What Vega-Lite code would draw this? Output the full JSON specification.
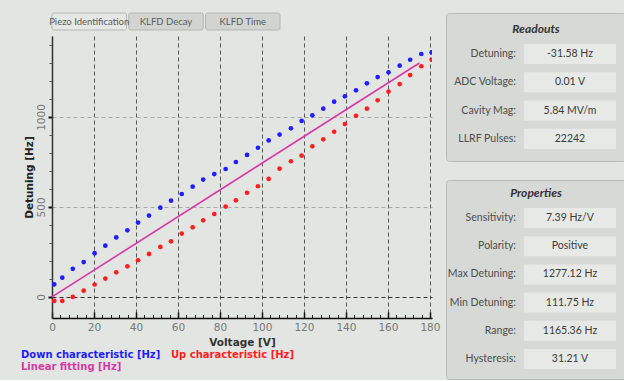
{
  "$schema": "https://vega.github.io/schema/vega-lite/v6.json",
  "background": "#e3e5e2",
  "padding": {"left": 11, "top": 12, "right": 0, "bottom": 0},
  "config": {"view": {"stroke": null}, "font": "DejaVu Sans"},
  "spacing": 5,
  "hconcat": [
    {
      "concat": [
        {
          "width": 228,
          "height": 17,
          "data": {"values": [
            {"tab": "Piezo Identification", "active": "yes"},
            {"tab": "KLFD Decay", "active": "no"},
            {"tab": "KLFD Time", "active": "no"}
          ]},
          "encoding": {"x": {"field": "tab", "type": "nominal", "sort": null, "axis": null, "scale": {"paddingInner": 0.03, "paddingOuter": 0}}},
          "layer": [
            {"mark": {"type": "rect", "stroke": "#b5b7b4", "strokeWidth": 1, "cornerRadius": 2},
             "encoding": {"fill": {"field": "active", "type": "nominal", "scale": {"domain": ["yes", "no"], "range": ["#e6e8e5", "#d2d4d1"]}, "legend": null}}},
            {"mark": {"type": "text", "font": "Lato", "fontSize": 9.5, "color": "#5a5a5a"},
             "encoding": {"text": {"field": "tab"}}}
          ]
        },
        {
          "width": 380,
          "height": 282,
          "data": {"values": [
            {"series": "Down characteristic [Hz]", "voltage": 1.1, "detuning": 70},
            {"series": "Down characteristic [Hz]", "voltage": 4.9, "detuning": 107},
            {"series": "Down characteristic [Hz]", "voltage": 9.9, "detuning": 156},
            {"series": "Down characteristic [Hz]", "voltage": 15.1, "detuning": 194},
            {"series": "Down characteristic [Hz]", "voltage": 20.3, "detuning": 243},
            {"series": "Down characteristic [Hz]", "voltage": 25.4, "detuning": 285},
            {"series": "Down characteristic [Hz]", "voltage": 30.6, "detuning": 331},
            {"series": "Down characteristic [Hz]", "voltage": 35.9, "detuning": 370},
            {"series": "Down characteristic [Hz]", "voltage": 41.0, "detuning": 413},
            {"series": "Down characteristic [Hz]", "voltage": 46.2, "detuning": 452},
            {"series": "Down characteristic [Hz]", "voltage": 51.6, "detuning": 496},
            {"series": "Down characteristic [Hz]", "voltage": 56.7, "detuning": 535},
            {"series": "Down characteristic [Hz]", "voltage": 61.8, "detuning": 572},
            {"series": "Down characteristic [Hz]", "voltage": 67.0, "detuning": 613},
            {"series": "Down characteristic [Hz]", "voltage": 72.0, "detuning": 652},
            {"series": "Down characteristic [Hz]", "voltage": 77.3, "detuning": 683},
            {"series": "Down characteristic [Hz]", "voltage": 82.7, "detuning": 711},
            {"series": "Down characteristic [Hz]", "voltage": 87.6, "detuning": 750},
            {"series": "Down characteristic [Hz]", "voltage": 92.9, "detuning": 789},
            {"series": "Down characteristic [Hz]", "voltage": 98.1, "detuning": 829},
            {"series": "Down characteristic [Hz]", "voltage": 103.2, "detuning": 870},
            {"series": "Down characteristic [Hz]", "voltage": 108.4, "detuning": 902},
            {"series": "Down characteristic [Hz]", "voltage": 113.8, "detuning": 937},
            {"series": "Down characteristic [Hz]", "voltage": 118.9, "detuning": 978},
            {"series": "Down characteristic [Hz]", "voltage": 124.0, "detuning": 1009},
            {"series": "Down characteristic [Hz]", "voltage": 129.2, "detuning": 1046},
            {"series": "Down characteristic [Hz]", "voltage": 134.4, "detuning": 1085},
            {"series": "Down characteristic [Hz]", "voltage": 139.5, "detuning": 1115},
            {"series": "Down characteristic [Hz]", "voltage": 144.8, "detuning": 1148},
            {"series": "Down characteristic [Hz]", "voltage": 150.0, "detuning": 1187},
            {"series": "Down characteristic [Hz]", "voltage": 155.1, "detuning": 1222},
            {"series": "Down characteristic [Hz]", "voltage": 160.3, "detuning": 1248},
            {"series": "Down characteristic [Hz]", "voltage": 165.6, "detuning": 1285},
            {"series": "Down characteristic [Hz]", "voltage": 170.6, "detuning": 1318},
            {"series": "Down characteristic [Hz]", "voltage": 175.9, "detuning": 1350},
            {"series": "Down characteristic [Hz]", "voltage": 180.8, "detuning": 1359},
            {"series": "Up characteristic [Hz]", "voltage": 1.1, "detuning": -22},
            {"series": "Up characteristic [Hz]", "voltage": 4.9, "detuning": -22},
            {"series": "Up characteristic [Hz]", "voltage": 9.9, "detuning": 0},
            {"series": "Up characteristic [Hz]", "voltage": 15.1, "detuning": 35},
            {"series": "Up characteristic [Hz]", "voltage": 20.3, "detuning": 69},
            {"series": "Up characteristic [Hz]", "voltage": 25.4, "detuning": 102},
            {"series": "Up characteristic [Hz]", "voltage": 30.6, "detuning": 137},
            {"series": "Up characteristic [Hz]", "voltage": 35.9, "detuning": 170},
            {"series": "Up characteristic [Hz]", "voltage": 41.0, "detuning": 204},
            {"series": "Up characteristic [Hz]", "voltage": 46.2, "detuning": 239},
            {"series": "Up characteristic [Hz]", "voltage": 51.6, "detuning": 278},
            {"series": "Up characteristic [Hz]", "voltage": 56.7, "detuning": 309},
            {"series": "Up characteristic [Hz]", "voltage": 61.8, "detuning": 352},
            {"series": "Up characteristic [Hz]", "voltage": 67.0, "detuning": 387},
            {"series": "Up characteristic [Hz]", "voltage": 72.0, "detuning": 426},
            {"series": "Up characteristic [Hz]", "voltage": 77.3, "detuning": 461},
            {"series": "Up characteristic [Hz]", "voltage": 82.7, "detuning": 502},
            {"series": "Up characteristic [Hz]", "voltage": 87.6, "detuning": 537},
            {"series": "Up characteristic [Hz]", "voltage": 92.9, "detuning": 579},
            {"series": "Up characteristic [Hz]", "voltage": 98.1, "detuning": 615},
            {"series": "Up characteristic [Hz]", "voltage": 103.2, "detuning": 656},
            {"series": "Up characteristic [Hz]", "voltage": 108.4, "detuning": 713},
            {"series": "Up characteristic [Hz]", "voltage": 113.8, "detuning": 754},
            {"series": "Up characteristic [Hz]", "voltage": 118.9, "detuning": 785},
            {"series": "Up characteristic [Hz]", "voltage": 124.0, "detuning": 837},
            {"series": "Up characteristic [Hz]", "voltage": 129.2, "detuning": 876},
            {"series": "Up characteristic [Hz]", "voltage": 134.4, "detuning": 918},
            {"series": "Up characteristic [Hz]", "voltage": 139.5, "detuning": 961},
            {"series": "Up characteristic [Hz]", "voltage": 144.8, "detuning": 1007},
            {"series": "Up characteristic [Hz]", "voltage": 150.0, "detuning": 1046},
            {"series": "Up characteristic [Hz]", "voltage": 155.1, "detuning": 1093},
            {"series": "Up characteristic [Hz]", "voltage": 160.3, "detuning": 1141},
            {"series": "Up characteristic [Hz]", "voltage": 165.6, "detuning": 1183},
            {"series": "Up characteristic [Hz]", "voltage": 170.6, "detuning": 1233},
            {"series": "Up characteristic [Hz]", "voltage": 175.9, "detuning": 1282},
            {"series": "Up characteristic [Hz]", "voltage": 180.8, "detuning": 1318},
            {"series": "Linear fitting [Hz]", "voltage": 0, "detuning": 0},
            {"series": "Linear fitting [Hz]", "voltage": 175, "detuning": 1300}
          ]},
          "layer": [
            {
              "transform": [{"filter": "datum.series !== 'Linear fitting [Hz]'"}],
              "mark": {"type": "circle", "size": 22, "opacity": 1, "clip": true},
              "encoding": {
                "x": {"field": "voltage", "type": "quantitative",
                  "scale": {"domain": [0, 181], "nice": false, "zero": false},
                  "axis": {"orient": "bottom", "values": [0, 20, 40, 60, 80, 100, 120, 140, 160, 180], "title": "Voltage [V]",
                    "titleFont": "DejaVu Sans", "titleFontSize": 10.5, "titleFontWeight": "bold", "titleColor": "#333", "titlePadding": 5,
                    "labelFont": "DejaVu Sans", "labelFontSize": 10.5, "labelColor": "#777", "labelPadding": 10, "labelFlush": false,
                    "tickSize": -6, "tickWidth": 1.5, "tickColor": "#111", "domainColor": "#111", "domainWidth": 1.5,
                    "grid": true, "gridDash": [4, 3], "gridColor": "#555", "gridWidth": 1}},
                "y": {"field": "detuning", "type": "quantitative",
                  "scale": {"domain": [-117, 1450], "nice": false, "zero": false},
                  "axis": {"orient": "left", "values": [0, 500, 1000], "format": "d", "title": "Detuning [Hz]",
                    "titleFont": "DejaVu Sans", "titleFontSize": 10.5, "titleFontWeight": "bold", "titleColor": "#222", "titlePadding": 2,
                    "labelFont": "DejaVu Sans", "labelFontSize": 10.5, "labelColor": "#777", "labelAngle": 270, "labelAlign": "center", "labelBaseline": "bottom", "labelPadding": 2,
                    "tickSize": 4, "tickWidth": 2, "tickColor": "#111", "domainColor": "#333", "domainWidth": 1.5,
                    "grid": true, "gridDash": [4, 3], "gridWidth": 1,
                    "gridColor": {"condition": {"test": "datum.value === 0", "value": "#333"}, "value": "#a8aaa8"}}},
                "color": {"field": "series", "type": "nominal",
                  "scale": {"domain": ["Down characteristic [Hz]", "Up characteristic [Hz]", "Linear fitting [Hz]"], "range": ["#1e1eff", "#ff1e1e", "#d63aa5"]},
                  "legend": {"orient": "none", "direction": "horizontal", "legendX": -41, "legendY": 337, "columns": 2, "title": null,
                    "symbolSize": 0, "symbolOpacity": 0, "symbolStrokeWidth": 0, "labelOffset": 0, "padding": 0,
                    "columnPadding": 0, "rowPadding": 2, "labelFont": "DejaVu Sans", "labelFontSize": 10, "labelFontWeight": "bold", "labelLimit": 300,
                    "encode": {"labels": {"update": {"fill": {"scale": "color", "field": "value"}}}}}}
              }
            },
            {
              "transform": [{"filter": "datum.series === 'Linear fitting [Hz]'"}],
              "mark": {"type": "line", "strokeWidth": 1.6},
              "encoding": {
                "x": {"field": "voltage", "type": "quantitative",
                  "axis": {"orient": "bottom", "values": [4, 8, 12, 16, 24, 28, 32, 36, 44, 48, 52, 56, 64, 68, 72, 76, 84, 88, 92, 96, 104, 108, 112, 116, 124, 128, 132, 136, 144, 148, 152, 156, 164, 168, 172, 176],
                    "labels": false, "title": null, "domain": false, "grid": false, "tickSize": -3.5, "tickColor": "#222", "tickWidth": 1}},
                "y": {"field": "detuning", "type": "quantitative",
                  "axis": {"orient": "left", "values": [100, 200, 300, 400, 600, 700, 800, 900, 1100, 1200, 1300, 1400],
                    "labels": false, "title": null, "domain": false, "grid": false, "tickSize": 3, "tickColor": "#555", "tickWidth": 1}},
                "color": {"field": "series", "type": "nominal"}
              }
            }
          ],
          "resolve": {"axis": {"x": "independent", "y": "independent"}}
        }
      ],
      "columns": 1,
      "align": "none",
      "spacing": 5
    },
    {
      "vconcat": [
        {
          "width": 180,
          "height": 148,
          "view": {"fill": "#d7d9d6", "stroke": "#b8bab7", "cornerRadius": 3},
          "title": {"text": "Readouts", "font": "Lato", "fontSize": 12, "fontWeight": "bold", "fontStyle": "italic", "color": "#333", "offset": -23, "anchor": "middle", "frame": "group"},
          "data": {"values": [
            {"label": "Detuning:", "value": "-31.58 Hz"},
            {"label": "ADC Voltage:", "value": "0.01 V"},
            {"label": "Cavity Mag:", "value": "5.84 MV/m"},
            {"label": "LLRF Pulses:", "value": "22242"}
          ]},
          "encoding": {"y": {"field": "label", "type": "nominal", "sort": null, "axis": null, "scale": {"paddingInner": 0.29, "paddingOuter": 0.76, "align": 0.72}}},
          "layer": [
            {"mark": {"type": "rect", "fill": "#e7e9e6"},
             "encoding": {"x": {"datum": "box", "type": "nominal", "axis": null, "scale": {"paddingInner": 0, "paddingOuter": 0.478, "align": 0.886}}}},
            {"mark": {"type": "text", "align": "right", "dx": -8, "font": "Lato", "fontSize": 10.5, "color": "#4d4d4d"},
             "encoding": {"x": {"datum": "box", "type": "nominal", "bandPosition": 0}, "text": {"field": "label"}}},
            {"mark": {"type": "text", "align": "center", "font": "Lato", "fontSize": 10.5, "color": "#3a3a3a"},
             "encoding": {"x": {"datum": "box", "type": "nominal", "bandPosition": 0.5}, "text": {"field": "value"}}}
          ]
        },
        {
          "width": 180,
          "height": 199,
          "view": {"fill": "#d7d9d6", "stroke": "#b8bab7", "cornerRadius": 3},
          "title": {"text": "Properties", "font": "Lato", "fontSize": 12, "fontWeight": "bold", "fontStyle": "italic", "color": "#333", "offset": -20, "anchor": "middle", "frame": "group"},
          "data": {"values": [
            {"label": "Sensitivity:", "value": "7.39 Hz/V"},
            {"label": "Polarity:", "value": "Positive"},
            {"label": "Max Detuning:", "value": "1277.12 Hz"},
            {"label": "Min Detuning:", "value": "111.75 Hz"},
            {"label": "Range:", "value": "1165.36 Hz"},
            {"label": "Hysteresis:", "value": "31.21 V"}
          ]},
          "encoding": {"y": {"field": "label", "type": "nominal", "sort": null, "axis": null, "scale": {"paddingInner": 0.29, "paddingOuter": 0.674, "align": 0.737}}},
          "layer": [
            {"mark": {"type": "rect", "fill": "#e7e9e6"},
             "encoding": {"x": {"datum": "box", "type": "nominal", "axis": null, "scale": {"paddingInner": 0, "paddingOuter": 0.478, "align": 0.886}}}},
            {"mark": {"type": "text", "align": "right", "dx": -8, "font": "Lato", "fontSize": 10.5, "color": "#4d4d4d"},
             "encoding": {"x": {"datum": "box", "type": "nominal", "bandPosition": 0}, "text": {"field": "label"}}},
            {"mark": {"type": "text", "align": "center", "font": "Lato", "fontSize": 10.5, "color": "#3a3a3a"},
             "encoding": {"x": {"datum": "box", "type": "nominal", "bandPosition": 0.5}, "text": {"field": "value"}}}
          ]
        }
      ],
      "spacing": 17
    }
  ]
}
